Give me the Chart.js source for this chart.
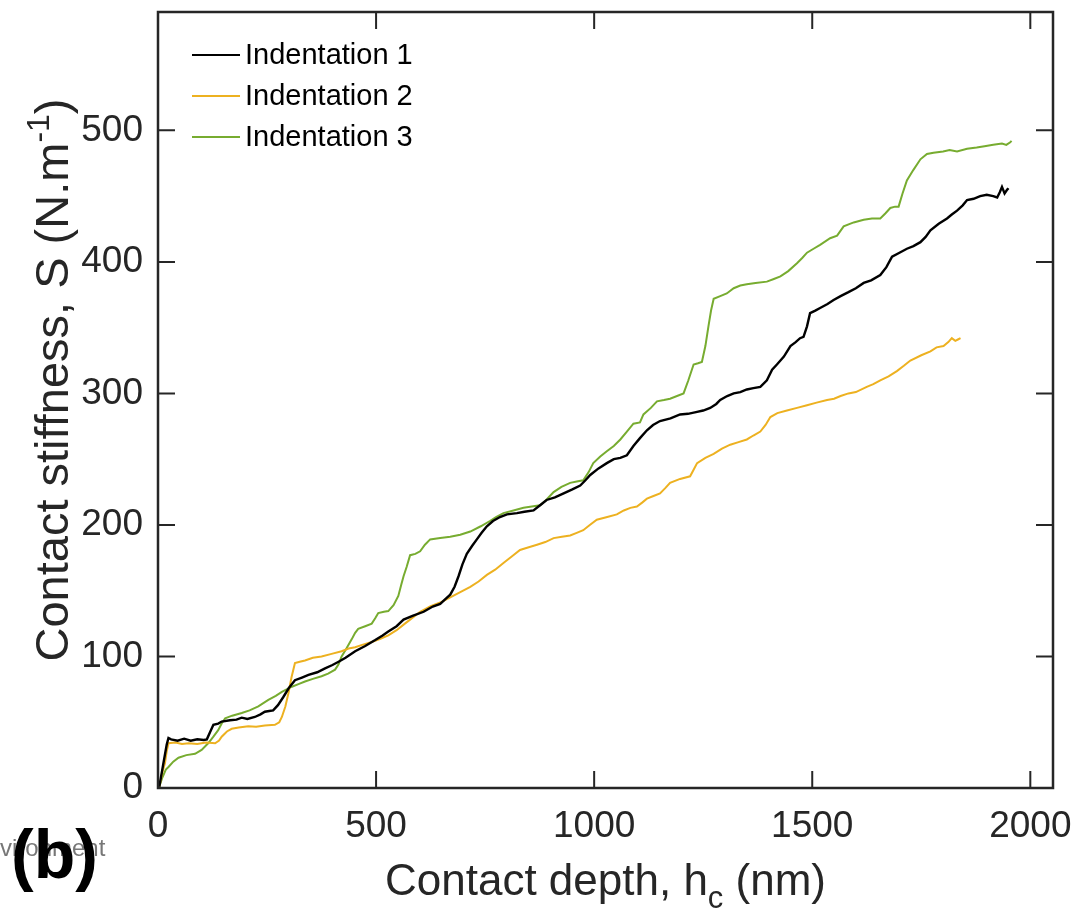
<!DOCTYPE html>
<html>
<head>
<meta charset="utf-8">
<script src="https://cdn.jsdelivr.net/npm/chart.js@4.4.1/dist/chart.umd.min.js"></script>
<style>
  html, body { margin: 0; padding: 0; background: #fff; }
  #wrap { width: 1078px; height: 918px; position: relative; }
</style>
</head>
<body>
<div id="wrap"><canvas id="grafico" width="1078" height="918"></canvas></div>
<script>
// valores (profundidade em nm, rigidez em N/m)
const seriesNames = ['Indentation 1', 'Indentation 2', 'Indentation 3'];
const xTicks = [0, 500, 1000, 1500, 2000];
const yTicks = [0, 100, 200, 300, 400, 500];

const depth1 = [3,12,20,24,30,45,60,75,90,105,112,120,127,138,146,165,180,192,205,222,235,245,255,264,275,287,300,314,330,345,365,383,400,414,430,452,475,498,515,528,547,563,585,609,630,647,660,670,680,689,698,708,720,731,742,754,768,784,800,823,840,861,876,891,910,930,950,968,980,991,1010,1029,1045,1060,1075,1090,1105,1121,1135,1151,1175,1197,1215,1236,1250,1266,1280,1289,1305,1320,1335,1350,1365,1381,1396,1408,1419,1435,1450,1462,1472,1480,1488,1495,1507,1518,1535,1549,1565,1583,1600,1618,1635,1656,1670,1683,1700,1717,1732,1748,1760,1771,1790,1809,1820,1832,1845,1855,1870,1885,1900,1915,1924,1930,1935,1941,1947,1950];
const stiff1 = [1,18,33,38,37,36,37.5,36,37,36.5,37,43,48,49,50.5,51.5,52,53.5,52.5,54,56,58,58.5,59,63,69,76,82,84,86,88,91,93.5,96,99,104,108,112.5,116,119,123,128,131,134,138,140,144,147,153,161,170,178,184,189,194,199,203,206,208,209,210,211,215,219,221,224,227,230,234,238,243,247,250,251,253,260,266,272,276,279,281,284,284.5,286,287,289,292,295,298,300,301,303,304,305,310,318,322,328,336,339,342,343,351,361,363,365,368,371,374,377,380,384,386,390,396,404,407,410,412,415,419,424,429,433,436,439,443,447,448,450,451,450,449,453,457,452,455,456];

const depth2 = [3,10,16,20,24,40,55,70,90,110,131,140,146,158,169,185,207,225,245,268,278,284,292,299,306,314,325,337,355,375,398,421,437,452,470,490,510,528,547,566,578,601,624,647,670,693,716,735,754,773,792,811,830,850,869,888,907,926,945,960,975,990,1006,1030,1052,1068,1083,1098,1110,1121,1136,1151,1163,1174,1197,1220,1228,1236,1255,1274,1293,1312,1331,1350,1365,1381,1393,1404,1420,1442,1465,1488,1510,1534,1550,1565,1583,1600,1625,1640,1656,1675,1694,1710,1725,1750,1771,1785,1801,1812,1820,1828,1834,1840];
const stiff2 = [1,12,19,28,34,34.5,33.5,34,33.5,34.5,34,36,39,43,45,46,47,46.5,47.5,48,50,54,62,72,84,95,96,97,99,100,102,104,106,107,109,111,113.5,116,120,125,128,134,138,141,145,149,153,157,162,166,171,176,181,183,185,187,190,191,192,194,196,200,204,206,208,211,213,214,217,220,222,224,228,232,235,237,242,247,251,254,258,261,263,265,268,271,276,282,285,287,289,291,293,295,296,298,300,301,305,307,310,313,317,321,325,329,332,335,336,339,342,340,341,342];

const depth3 = [3,10,18,24,35,47,65,85,100,115,127,138,146,154,170,192,210,230,253,270,284,307,322,337,355,375,390,406,414,421,430,444,452,459,475,490,498,505,518,528,540,551,558,563,570,578,590,601,612,624,647,670,693,716,740,761,775,792,815,838,857,876,890,907,925,945,960,975,987,998,1014,1029,1045,1060,1075,1090,1105,1113,1130,1144,1160,1174,1190,1205,1216,1228,1238,1247,1255,1262,1268,1274,1289,1304,1320,1335,1350,1370,1396,1412,1427,1445,1465,1477,1488,1503,1518,1541,1557,1572,1595,1618,1637,1656,1668,1679,1690,1698,1707,1717,1732,1748,1763,1778,1800,1815,1832,1855,1877,1895,1915,1935,1945,1954,1957];
const stiff3 = [1,8,14,16,20,23,25,26,29,34,39,44,49,53,55,57,59,62,67,70,73,77,79,81,83,85,87,90,94,100,105,113,118,121,123,125,129,133,134,134.5,139,146,155,161,168,177,178,180,185,189,190,191,192.5,195,199,203,206,209,211,213,214,215,219,225,229,232,233,234,240,247,252,256,260,265,271,277,278,284,289,294,295,296,298,300,310,322,323,324,336,351,363,372,374,376,380,382,383,384,385,387,389,393,399,403,407,410,413,418,420,427,430,432,433,433,437,441,442,442,452,462,470,478,482,483,484,485,484,486,487,488,489,490,489,491,492];

const corSerie = ['#000000', '#EDB120', '#77AC30'];
const corEixo = '#262626';
const fonte = "'Liberation Sans', Arial, Helvetica, sans-serif";

function pontos(xs, ys) {
    return xs.map((x, i) => ({x: x, y: ys[i]}));
}

// caixa, marcas internas, legenda e textos com sub/sobrescrito
const decoracao = {
    id: 'decoracao',
    afterDraw(chart) {
        const ctx = chart.ctx;
        const a = chart.chartArea;
        const sx = chart.scales.x;
        const sy = chart.scales.y;
        const tl = 17;
        ctx.save();
        ctx.strokeStyle = corEixo;
        ctx.lineWidth = 2.5;
        ctx.strokeRect(a.left, a.top, a.right - a.left, a.bottom - a.top);
        ctx.lineWidth = 2;
        ctx.beginPath();
        xTicks.forEach(v => {
            const p = sx.getPixelForValue(v);
            ctx.moveTo(p, a.bottom); ctx.lineTo(p, a.bottom - tl);
            ctx.moveTo(p, a.top); ctx.lineTo(p, a.top + tl);
        });
        yTicks.forEach(v => {
            const p = sy.getPixelForValue(v);
            ctx.moveTo(a.left, p); ctx.lineTo(a.left + tl, p);
            ctx.moveTo(a.right, p); ctx.lineTo(a.right - tl, p);
        });
        ctx.stroke();

        // legenda
        ctx.font = '29px ' + fonte;
        ctx.textBaseline = 'middle';
        ctx.textAlign = 'left';
        seriesNames.forEach((nome, i) => {
            const y = a.top + 43 + i * 41;
            ctx.strokeStyle = corSerie[i];
            ctx.lineWidth = 2;
            ctx.beginPath();
            ctx.moveTo(a.left + 34, y);
            ctx.lineTo(a.left + 82, y);
            ctx.stroke();
            ctx.fillStyle = '#000';
            ctx.fillText(nome, a.left + 87, y + 1);
        });

        // titulo do eixo x
        ctx.fillStyle = corEixo;
        ctx.textBaseline = 'alphabetic';
        let f1 = '44px ' + fonte, f2 = '31px ' + fonte;
        ctx.font = f1;
        const t1 = 'Contact depth, h', t3 = ' (nm)';
        const w1 = ctx.measureText(t1).width, w3 = ctx.measureText(t3).width;
        ctx.font = f2;
        const w2 = ctx.measureText('c').width;
        let x0 = (a.left + a.right) / 2 - (w1 + w2 + w3) / 2;
        const yb = 895;
        ctx.font = f1; ctx.fillText(t1, x0, yb);
        ctx.font = f2; ctx.fillText('c', x0 + w1, yb + 13);
        ctx.font = f1; ctx.fillText(t3, x0 + w1 + w2, yb);

        // titulo do eixo y
        f1 = '47px ' + fonte; f2 = '32px ' + fonte;
        ctx.save();
        ctx.translate(68, 380);
        ctx.rotate(-Math.PI / 2);
        const u1 = 'Contact stiffness, S (N.m', u2 = '-1', u3 = ')';
        ctx.font = f1;
        const v1 = ctx.measureText(u1).width, v3 = ctx.measureText(u3).width;
        ctx.font = f2;
        const v2 = ctx.measureText(u2).width;
        const s0 = -(v1 + v2 + v3) / 2;
        ctx.font = f1; ctx.fillText(u1, s0, 0);
        ctx.font = f2; ctx.fillText(u2, s0 + v1, -19);
        ctx.font = f1; ctx.fillText(u3, s0 + v1 + v2, 0);
        ctx.restore();

        // restos da figura original
        ctx.fillStyle = '#777';
        ctx.font = '24px ' + fonte;
        ctx.fillText('vironment', 0, 856);
        ctx.fillStyle = '#000';
        ctx.font = 'bold 68px ' + fonte;
        ctx.fillText('(b)', 11, 878);
        ctx.restore();
    }
};

const datasets = [
    {label: seriesNames[0], data: pontos(depth1, stiff1), borderColor: corSerie[0], borderWidth: 2.4},
    {label: seriesNames[1], data: pontos(depth2, stiff2), borderColor: corSerie[1], borderWidth: 2},
    {label: seriesNames[2], data: pontos(depth3, stiff3), borderColor: corSerie[2], borderWidth: 2}
].map(d => Object.assign(d, {showLine: true, pointRadius: 0, tension: 0, fill: false}));

new Chart(document.getElementById('grafico'), {
    type: 'scatter',
    data: {datasets: datasets},
    plugins: [decoracao],
    options: {
        responsive: false,
        animation: false,
        devicePixelRatio: 1,
        layout: {padding: {top: 12, right: 25, left: 0, bottom: 0}},
        plugins: {legend: {display: false}, tooltip: {enabled: false}},
        scales: {
            x: {
                type: 'linear', min: 0, max: 2052,
                grid: {display: false, drawTicks: false},
                border: {display: false},
                afterFit(s) { s.height = 130; s.paddingLeft = 0; s.paddingRight = 0; },
                afterBuildTicks(s) { s.ticks = xTicks.map(v => ({value: v})); },
                ticks: {padding: 17, color: corEixo, font: {size: 37, family: fonte}, maxRotation: 0,
                        callback: v => String(v)}
            },
            y: {
                type: 'linear', min: 0, max: 590,
                grid: {display: false, drawTicks: false},
                border: {display: false},
                afterFit(s) { s.width = 158; s.paddingTop = 0; s.paddingBottom = 0; },
                afterBuildTicks(s) { s.ticks = yTicks.map(v => ({value: v})); },
                ticks: {padding: 15, color: corEixo, font: {size: 37, family: fonte},
                        callback: v => String(v)}
            }
        }
    }
});
</script>
</body>
</html>
